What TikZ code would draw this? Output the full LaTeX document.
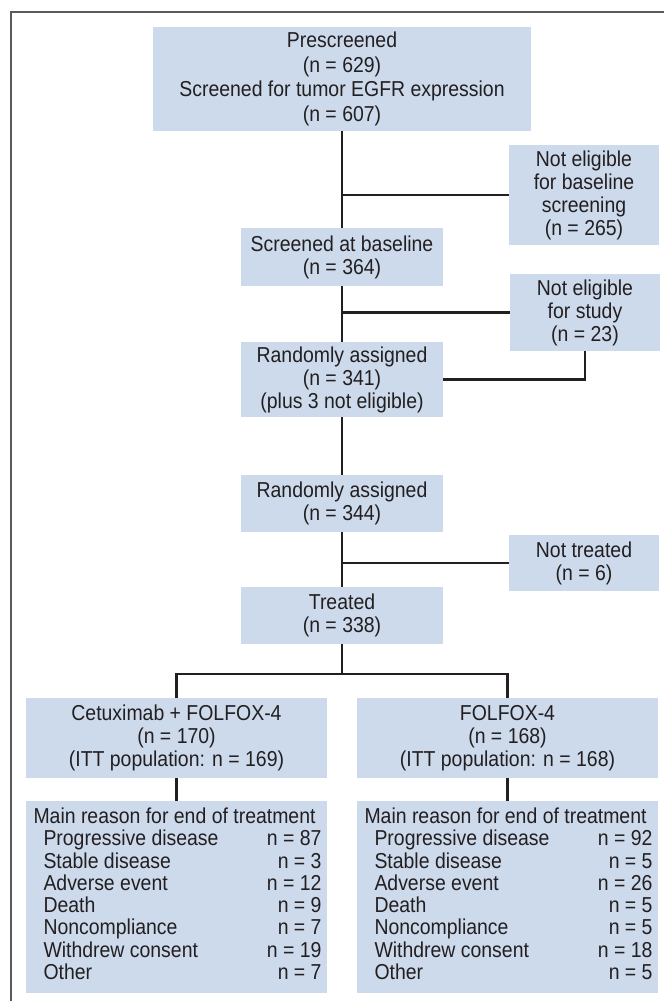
\documentclass[tikz,border=0pt]{standalone}
\usepackage{fontspec}
\setmainfont[FakeStretch=0.9]{Liberation Sans}
\usetikzlibrary{arrows.meta}

\definecolor{boxblue}{RGB}{204,218,236}
\definecolor{inkgray}{RGB}{35,31,32}
\definecolor{framegray}{RGB}{90,90,90}

\tikzset{
  box/.style={shape=rectangle, fill=boxblue, inner sep=0pt, align=center,
              text=inkgray, font=\fontsize{10.8}{11.5}\selectfont},
  sidebox/.style={box, minimum width=75pt},
  midbox/.style={box, minimum width=101pt},
  armbox/.style={box, minimum width=150.5pt},
  link/.style={draw=inkgray, line width=1.25pt},
}

\begin{document}
\begin{tikzpicture}[x=0.5pt, y=-0.5pt]
\useasboundingbox (0,0) rectangle (664,1001);

% outer frame
\draw[framegray, line width=0.8pt] (11,1001) -- (11,12) -- (664,12);

\begin{scope}
    \node (prescreen) at (342, 79) [box, minimum width=189pt, minimum height=52pt,
        font=\fontsize{10.8}{12.2}\selectfont]
        {Prescreened\\(n = 629)\\Screened for tumor EGFR expression\\(n = 607)};
    \node (notbase) at (584, 195) [sidebox, minimum height=50pt]
        {Not eligible\\for baseline\\screening\\(n = 265)};
    \node (screened) at (342, 257) [midbox, minimum height=29pt]
        {Screened at baseline\\(n = 364)};
    \node (notstudy) at (585, 312.5) [sidebox, minimum height=38.5pt]
        {Not eligible\\for study\\(n = 23)};
    \node (rand1) at (342, 379.5) [midbox, minimum height=37.5pt]
        {Randomly assigned\\(n = 341)\\(plus 3 not eligible)};
    \node (rand2) at (342, 503.5) [midbox, minimum height=28.5pt]
        {Randomly assigned\\(n = 344)};
    \node (nottreated) at (584, 563) [sidebox, minimum height=28pt]
        {Not treated\\(n = 6)};
    \node (treated) at (342, 615.5) [midbox, minimum height=28.5pt]
        {Treated\\(n = 338)};

    \node (armA) at (176.5, 738) [armbox, minimum height=40pt]
        {Cetuximab + FOLFOX-4\\(n = 170)\\(ITT population: n = 169)};
    \node (armB) at (507.5, 738) [armbox, minimum height=40pt]
        {FOLFOX-4\\(n = 168)\\(ITT population: n = 168)};

    \node (endA) at (176.5, 897) [armbox, minimum height=96pt,
        font=\fontsize{10.8}{11.1}\selectfont]
        {\begin{tabular*}{143pt}{@{\hspace{5pt}}l@{\extracolsep{\fill}}r@{\hspace{3pt}}}
         \multicolumn{2}{@{}l}{Main reason for end of treatment}\\
         Progressive disease & n = 87\\
         Stable disease & n = 3\\
         Adverse event & n = 12\\
         Death & n = 9\\
         Noncompliance & n = 7\\
         Withdrew consent & n = 19\\
         Other & n = 7
         \end{tabular*}};
    \node (endB) at (507.5, 897) [armbox, minimum height=96pt,
        font=\fontsize{10.8}{11.1}\selectfont]
        {\begin{tabular*}{143pt}{@{\hspace{5pt}}l@{\extracolsep{\fill}}r@{\hspace{3pt}}}
         \multicolumn{2}{@{}l}{Main reason for end of treatment}\\
         Progressive disease & n = 92\\
         Stable disease & n = 5\\
         Adverse event & n = 26\\
         Death & n = 5\\
         Noncompliance & n = 5\\
         Withdrew consent & n = 18\\
         Other & n = 5
         \end{tabular*}};
\end{scope}

\coordinate (split) at (342, 674);

\begin{scope}[every path/.style={link}]
    \path (prescreen) edge (screened);
    \path (prescreen.south |- notbase.west) edge (notbase.west);

    \path (screened) edge (rand1);
    \path (screened.south |- notstudy.west) edge (notstudy.west);
    \draw (notstudy.south) |- (rand1.east);

    \path (rand1) edge (rand2);

    \path (rand2) edge (treated);
    \path (rand2.south |- nottreated.west) edge (nottreated.west);

    \draw (treated.south) -- (split);
    \draw (armA.north) |- (split) -| (armB.north);

    \path (armA) edge (endA);
    \path (armB) edge (endB);
\end{scope}
\end{tikzpicture}
\end{document}
